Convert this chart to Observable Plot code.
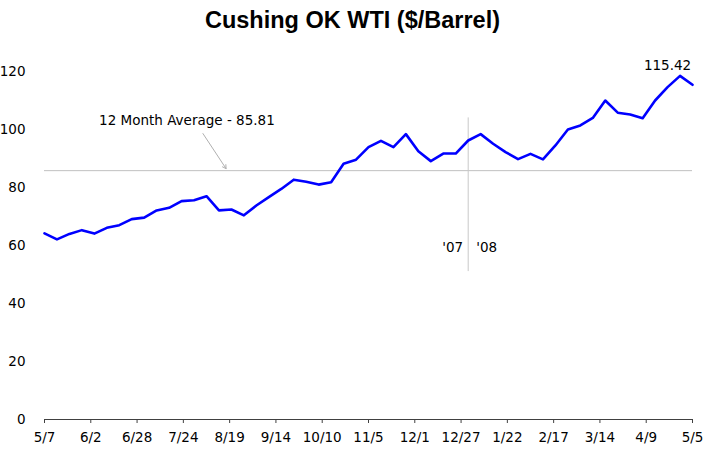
<!DOCTYPE html>
<html><head><meta charset="utf-8">
<script src="https://cdn.jsdelivr.net/npm/d3@7"></script>
<script src="https://cdn.jsdelivr.net/npm/@observablehq/plot@0.6"></script>
<style>
body{margin:0;background:#fff;}
#title{height:40px;text-align:center;font:bold 23.5px "Liberation Sans", Arial, sans-serif;line-height:40px;color:#000;padding-right:22px;}
</style></head><body>
<div id="title">Cushing OK WTI ($/Barrel)</div>
<div id="chart"></div>
<script>
const dates = [
 "2007-05-07","2007-05-14","2007-05-21","2007-05-28","2007-06-04","2007-06-11","2007-06-18","2007-06-25",
 "2007-07-02","2007-07-09","2007-07-16","2007-07-23","2007-07-30","2007-08-06","2007-08-13","2007-08-20",
 "2007-08-27","2007-09-03","2007-09-10","2007-09-17","2007-09-24","2007-10-01","2007-10-08","2007-10-15",
 "2007-10-22","2007-10-29","2007-11-05","2007-11-12","2007-11-19","2007-11-26","2007-12-03","2007-12-10",
 "2007-12-17","2007-12-24","2007-12-31","2008-01-07","2008-01-14","2008-01-21","2008-01-28","2008-02-04",
 "2008-02-11","2008-02-18","2008-02-25","2008-03-03","2008-03-10","2008-03-17","2008-03-24","2008-03-31",
 "2008-04-07","2008-04-14","2008-04-21","2008-04-28","2008-05-05"
];
const prices = [
 64.2,62.1,64.0,65.3,64.1,66.1,67.0,69.1,
 69.6,72.1,73.0,75.3,75.6,77.0,72.1,72.4,
 70.4,73.8,76.7,79.5,82.7,82.0,81.0,81.8,
 88.2,89.6,93.9,96.1,93.9,98.4,92.5,89.1,
 91.7,91.7,96.2,98.4,95.1,92.2,89.8,91.6,
 89.7,94.5,100.0,101.4,104.0,110.0,105.8,105.2,
 103.9,110.0,114.6,118.5,115.42
];
const tickDates = ["2007-05-07","2007-06-02","2007-06-28","2007-07-24","2007-08-19","2007-09-14","2007-10-10",
 "2007-11-05","2007-12-01","2007-12-27","2008-01-22","2008-02-17","2008-03-14","2008-04-09","2008-05-05"];
const tickLabels = ["5/7","6/2","6/28","7/24","8/19","9/14","10/10","11/5","12/1","12/27","1/22","2/17","3/14","4/9","5/5"];
const yTicks = [0,20,40,60,80,100,120];
const average = 85.81;
const averageLabel = "12 Month Average - 85.81";
const lastLabel = "115.42";
const yearBreak = "2007-12-31";
const yearBreakRange = [51, 104];
const yearLabels = ["'07","'08"];
const yearLabelValue = 59.3;
const avgLabelPos = {date:"2007-07-26", value:103.1};
const avgArrow = {x1:"2007-08-04", y1:98.6, x2:"2007-08-17", y2:86.5};

const parse = d3.utcParse("%Y-%m-%d");
const data = dates.map((d,i)=>({date:parse(d), price:prices[i]}));
const ticks = tickDates.map(parse);
const labelMap = new Map(ticks.map((t,i)=>[+t, tickLabels[i]]));
const brk = parse(yearBreak);
const last = data[data.length-1];

const chart = Plot.plot({
  width:727, height:411,
  marginTop:31, marginBottom:32, marginLeft:44, marginRight:35,
  style:{fontFamily:"'DejaVu Sans', sans-serif", fontSize:"13.5px", color:"#000", background:"#fff", overflow:"visible"},
  x:{type:"utc", domain:[ticks[0], ticks[ticks.length-1]]},
  y:{domain:[0,120]},
  marks:[
    Plot.ruleY([average], {stroke:"#c0c0c0", strokeWidth:1}),
    Plot.ruleX([brk], {y1:yearBreakRange[0], y2:yearBreakRange[1], stroke:"#c8c8c8", strokeWidth:1}),
    Plot.arrow([avgArrow], {x1:d=>parse(d.x1), y1:"y1", x2:d=>parse(d.x2), y2:"y2", stroke:"#b0b0b0", strokeWidth:1, headLength:6}),
    Plot.line(data, {x:"date", y:"price", stroke:"#0000ff", strokeWidth:2.6}),
    Plot.ruleY([0], {stroke:"#404040", strokeWidth:1}),
    Plot.axisX({ticks:ticks, tickFormat:d=>labelMap.get(+d), tickSize:4, tickPadding:9, label:null, stroke:"#404040"}),
    Plot.axisY({ticks:yTicks, tickSize:0, tickPadding:19, label:null}),
    Plot.text([avgLabelPos], {x:d=>parse(d.date), y:"value", text:()=>averageLabel, textAnchor:"middle"}),
    Plot.text([last], {x:"date", y:"price", text:()=>lastLabel, dx:-25, dy:-19, textAnchor:"middle"}),
    Plot.text([{date:brk, v:yearLabelValue}], {x:"date", y:"v", text:()=>yearLabels[0], textAnchor:"end", dx:-5}),
    Plot.text([{date:brk, v:yearLabelValue}], {x:"date", y:"v", text:()=>yearLabels[1], textAnchor:"start", dx:8})
  ]
});
document.getElementById("chart").appendChild(chart);
</script>
</body></html>
